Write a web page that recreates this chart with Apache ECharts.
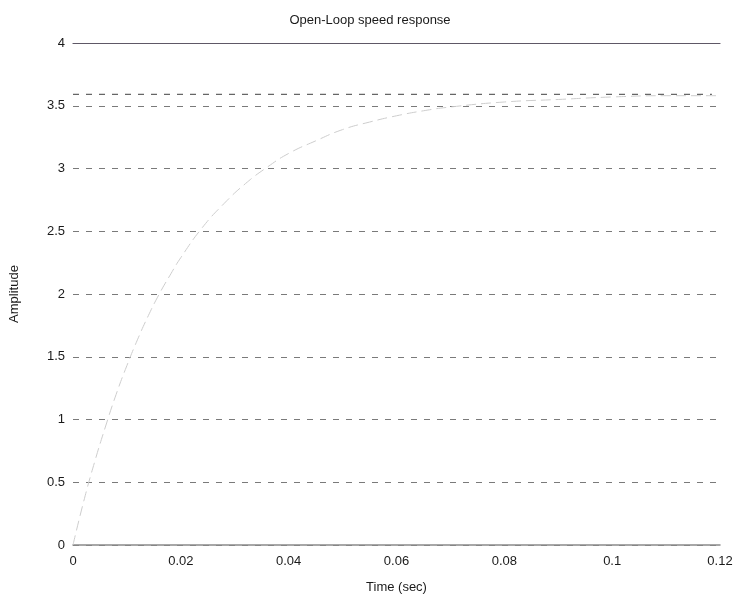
<!DOCTYPE html>
<html>
<head>
<meta charset="utf-8">
<script src="https://cdn.jsdelivr.net/npm/echarts@6/dist/echarts.min.js"></script>
<style>html,body{margin:0;padding:0;background:#fff}#c{width:740px;height:600px}</style>
</head>
<body>
<div id="c"></div>
<script>
var timeSec = [0, 0.002, 0.004, 0.006, 0.008, 0.010, 0.012, 0.014, 0.016, 0.018, 0.020, 0.024, 0.028, 0.032, 0.036, 0.040, 0.045, 0.050, 0.055, 0.060, 0.065, 0.070, 0.080, 0.090, 0.100, 0.110, 0.120];
var speedAmp = [0, 0.35, 0.66, 0.94, 1.20, 1.43, 1.64, 1.83, 2.00, 2.15, 2.29, 2.53, 2.72, 2.88, 3.01, 3.12, 3.22, 3.31, 3.37, 3.42, 3.46, 3.49, 3.53, 3.55, 3.57, 3.58, 3.58];
var steadyTime = [0, 0.1185];
var steadyValue = [3.59, 3.59];
var xTicks = ['0', '0.02', '0.04', '0.06', '0.08', '0.1', '0.12'];

var chart = echarts.init(document.getElementById('c'), null, {renderer: 'canvas'});
var font = 'Liberation Sans, Arial, sans-serif';
chart.setOption({
  backgroundColor: '#ffffff',
  animation: false,
  title: {
    text: 'Open-Loop speed response',
    left: 'center', top: 9,
    textStyle: {fontFamily: font, fontSize: 13, fontWeight: 'normal', color: '#1a1a1a'}
  },
  grid: {left: 70, right: 20, top: 43, bottom: 55},
  xAxis: [{
    type: 'value', min: 0, max: 0.12, interval: 0.02,
    name: 'Time (sec)', nameLocation: 'middle', nameGap: 36,
    nameTextStyle: {fontFamily: font, fontSize: 13, color: '#1a1a1a'},
    axisLine: {show: true, lineStyle: {color: '#8a8a8a', width: 1.5}},
    axisTick: {show: false},
    axisLabel: {fontFamily: font, fontSize: 13, color: '#1a1a1a', margin: 10,
      formatter: function (v) { return xTicks[Math.round(v / 0.02)]; }},
    splitLine: {show: false}
  }, {
    type: 'value', min: 0, max: 0.12, position: 'top',
    axisLine: {show: true, onZero: false, lineStyle: {color: '#5e5866', width: 1.2}},
    axisTick: {show: false}, axisLabel: {show: false}, splitLine: {show: false}
  }],
  yAxis: {
    type: 'value', min: 0, max: 4, interval: 0.5,
    name: 'Amplitude', nameLocation: 'middle', nameGap: 52,
    nameTextStyle: {fontFamily: font, fontSize: 13, color: '#1a1a1a'},
    axisLine: {show: false}, axisTick: {show: false},
    axisLabel: {fontFamily: font, fontSize: 13, color: '#1a1a1a', margin: 8},
    splitLine: {show: true, lineStyle: {color: '#7a7a7a', width: 1.2, type: [6, 7]}}
  },
  series: [{
    type: 'line', name: 'steady',
    data: steadyTime.map(function (t, i) { return [t, steadyValue[i]]; }),
    showSymbol: false, silent: true,
    lineStyle: {color: '#666666', width: 1.3, type: [6, 7]}
  }, {
    type: 'line', name: 'speed',
    data: timeSec.map(function (t, i) { return [t, speedAmp[i]]; }),
    showSymbol: false, smooth: true, silent: true,
    lineStyle: {color: '#cdcdcd', width: 1, type: [10, 5]}
  }]
});
</script>
</body>
</html>
